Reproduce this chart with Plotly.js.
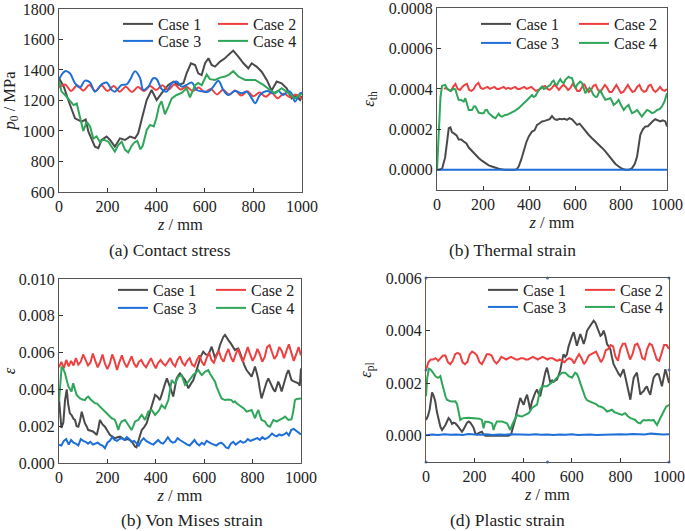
<!DOCTYPE html>
<html>
<head>
<meta charset="utf-8">
<script src="https://cdn.plot.ly/plotly-3.0.1.min.js"></script>
<style>
  html, body { margin: 0; padding: 0; background: #fff; }
  #myChart { width: 685px; height: 531px; }
</style>
</head>
<body>
<div id="myChart"></div>
<script>
// z positions (mm) for the evenly read series
const z10 = [0,10,20,30,40,50,60,70,80,90,100,110,120,130,140,150,160,170,180,190,200,
  210,220,230,240,250,260,270,280,290,300,310,320,330,340,350,360,370,380,390,400,
  410,420,430,440,450,460,470,480,490,500,510,520,530,540,550,560,570,580,590,600,
  610,620,630,640,650,660,670,680,690,700,710,720,730,740,750,760,770,780,790,800,
  810,820,830,840,850,860,870,880,890,900,910,920,930,940,950,960,970,980,990,1000];
const z25 = [0,25,50,75,100,125,150,175,200,225,250,275,300,325,350,375,400,425,450,475,500,
  525,550,575,600,625,650,675,700,725,750,775,800,825,850,875,900,925,950,975,1000];

const cases = ["Case 1", "Case 2", "Case 3", "Case 4"];
const colors = ["#4a4a4a", "#ee4040", "#1f6fd8", "#2fa65a"];

// (a) contact stress, MPa  -- [z, p0]
const aCase1 = [[0,1345],[20,1290],[38,1203],[52,1140],[66,1083],[93,1061],[110,1075],[121,996],
  [135,950],[148,897],[162,887],[175,941],[196,963],[210,941],[230,897],[251,952],[272,941],
  [292,963],[313,952],[326,985],[343,1094],[361,1203],[381,1269],[402,1203],[422,1247],
  [450,1302],[471,1324],[491,1302],[512,1313],[525,1378],[543,1444],[560,1433],[573,1378],
  [587,1367],[601,1444],[615,1477],[628,1433],[642,1422],[663,1455],[683,1477],[697,1499],
  [717,1527],[738,1488],[759,1444],[779,1411],[793,1444],[813,1422],[834,1389],[855,1335],
  [875,1265],[896,1324],[916,1313],[937,1280],[957,1214],[971,1236],[992,1203],[1000,1230]];
const aCase2 = [1285,1305,1262,1300,1265,1302,1262,1298,1262,1295,1258,1290,1255,1288,1262,
  1295,1268,1300,1270,1305,1272,1290,1262,1285,1255,1275,1240,1270,1238,1265,1232,1260,
  1228,1252,1225,1250,1215,1245,1222,1238,1212];
const aCase3 = [[0,1339],[25,1392],[45,1378],[66,1313],[86,1285],[107,1330],[128,1318],
  [148,1258],[175,1305],[196,1318],[217,1269],[230,1258],[258,1302],[278,1305],[292,1335],
  [313,1392],[333,1350],[347,1269],[368,1291],[388,1346],[402,1340],[422,1275],[443,1258],
  [464,1313],[484,1324],[505,1291],[525,1302],[546,1318],[567,1269],[590,1260],[615,1258],
  [635,1291],[656,1330],[676,1269],[697,1236],[724,1262],[752,1247],[772,1258],[793,1214],
  [807,1182],[827,1236],[855,1262],[882,1247],[903,1262],[923,1236],[944,1262],[957,1247],
  [971,1193],[992,1247],[1000,1250]];
const aCase4 = [[0,1330],[10,1260],[25,1236],[45,1200],[60,1170],[73,1180],[86,1090],
  [100,1000],[114,1060],[128,1030],[141,950],[155,965],[169,925],[182,945],[203,930],
  [217,897],[230,865],[244,908],[258,930],[272,876],[285,860],[298,900],[310,925],[322,935],
  [335,880],[345,905],[361,1007],[375,1040],[390,1030],[400,1080],[412,1165],[422,1195],
  [436,1110],[450,1160],[464,1214],[484,1236],[505,1250],[525,1280],[539,1220],[560,1300],
  [573,1315],[587,1300],[608,1370],[621,1340],[642,1335],[663,1350],[683,1357],[700,1370],
  [717,1392],[738,1357],[766,1335],[807,1335],[841,1302],[868,1269],[889,1247],[916,1280],
  [944,1250],[971,1214],[1000,1245]];

// (b) thermal strain, in units of 1e-4  -- [z, eps]
const bCase1 = [[0,0],[10,0],[22,0.05],[35,0.6],[45,1.5],[51,2.06],[58,2.1],[65,1.85],[72,1.81],
  [85,1.7],[94,1.5],[105,1.5],[116,1.4],[128,1.3],[138,1.1],[150,0.95],[159,0.82],[170,0.7],
  [181,0.58],[195,0.45],[210,0.33],[225,0.22],[239,0.16],[255,0.08],[268,0.05],[285,0.02],
  [297,0],[320,0],[341,0],[348,0.05],[355,0.16],[366,0.5],[377,0.99],[388,1.35],[399,1.65],
  [413,1.89],[424,1.95],[435,2.22],[446,2.3],[457,2.39],[468,2.42],[478,2.47],[490,2.5],
  [500,2.65],[511,2.5],[522,2.47],[532,2.52],[543,2.5],[555,2.52],[565,2.47],[576,2.55],
  [587,2.5],[598,2.35],[609,2.22],[620,2.28],[632,2.1],[645,1.89],[660,1.72],[674,1.56],
  [690,1.4],[703,1.23],[718,1.08],[732,0.91],[746,0.7],[761,0.49],[775,0.3],[790,0.16],
  [805,0.05],[819,0],[834,0],[848,0.08],[860,0.3],[870,0.66],[877,1.2],[884,1.73],[895,2.0],
  [906,2.14],[917,2.15],[928,2.3],[938,2.4],[949,2.5],[960,2.45],[971,2.39],[982,2.45],
  [993,2.39],[1000,2.14]];
// Case 2 starts at z = 30 (z10 from index 3)
const bCase2 = [4.0,4.05,3.95,3.9,4.1,4.25,4.0,3.95,4.1,4.2,4.25,3.95,3.9,4.0,4.2,4.3,4.05,
  4.0,4.05,4.1,4.0,4.05,4.1,4.0,4.0,4.05,4.1,4.0,4.05,4.0,4.05,4.1,4.0,4.0,4.05,4.1,4.0,
  4.05,4.1,4.0,3.9,3.95,4.0,4.1,4.15,4.0,3.95,4.05,4.2,4.1,3.95,4.1,4.2,4.1,3.95,4.05,4.25,
  4.1,3.9,3.9,4.1,4.25,4.0,3.85,3.95,4.15,4.2,3.95,3.85,4.0,4.2,4.05,3.85,3.85,4.05,4.2,
  4.0,3.8,3.85,4.05,4.2,4.0,3.85,3.9,4.1,4.2,3.95,3.85,3.9,4.15,4.2,3.95,3.85,3.95,4.1,
  3.95,3.9,4.0];
const bCase3 = [[0,0],[250,0],[500,0],[750,0],[1000,0]];
const bCase4 = [[0,0],[5,1.0],[10,2.5],[15,3.6],[22,4.15],[30,4.2],[36,4.2],[44,4.0],[51,3.95],
  [60,3.9],[70,4.0],[80,3.98],[87,3.7],[94,3.46],[105,3.45],[116,3.37],[123,3.54],[130,3.3],
  [138,2.96],[152,2.96],[160,3.13],[167,3.13],[174,2.95],[181,2.83],[192,2.8],[203,2.8],
  [210,2.95],[217,2.96],[225,2.8],[232,2.72],[243,2.62],[254,2.55],[261,2.68],[268,2.77],
  [276,2.65],[283,2.63],[294,2.7],[304,2.72],[315,2.78],[326,2.83],[340,2.93],[355,3.05],
  [366,3.15],[377,3.29],[388,3.4],[399,3.54],[413,3.7],[420,3.6],[428,3.65],[435,3.8],
  [442,3.95],[450,4.05],[457,4.12],[464,4.0],[471,4.03],[482,4.1],[493,4.2],[500,4.35],
  [507,4.41],[514,4.25],[522,4.2],[529,4.35],[536,4.48],[543,4.35],[551,4.28],[558,4.45],
  [565,4.55],[572,4.6],[580,4.55],[587,4.53],[594,4.3],[601,4.03],[609,4.2],[616,4.28],
  [622,4.36],[630,4.3],[637,4.0],[645,3.79],[655,3.95],[663,4.05],[670,3.95],[680,3.7],
  [690,3.6],[696,3.62],[703,3.8],[710,3.95],[720,3.7],[732,3.46],[743,3.5],[754,3.54],
  [761,3.4],[768,3.21],[779,3.3],[790,3.46],[800,3.2],[812,2.96],[822,3.1],[833,3.21],
  [840,3.0],[848,2.8],[858,2.85],[870,2.96],[880,2.8],[891,2.63],[902,2.8],[913,2.96],
  [924,2.9],[935,2.8],[946,2.85],[957,2.96],[968,3.0],[978,3.13],[990,3.4],[1000,3.79]];

// (c) von Mises strain, in units of 1e-3
const cCase1 = [[0,3.5],[5,2.5],[10,1.9],[18,2.2],[25,3.4],[32,4.0],[38,3.2],[45,2.7],[52,2.6],
  [60,2.4],[66,2.34],[73,2.0],[80,1.97],[87,2.3],[94,2.79],[100,2.5],[107,2.16],[114,2.0],
  [121,1.79],[132,1.75],[142,1.7],[150,1.6],[156,1.52],[163,1.9],[169,2.34],[180,2.1],
  [190,1.97],[200,1.75],[211,1.52],[220,1.45],[231,1.34],[241,1.4],[252,1.43],[262,1.35],
  [273,1.25],[283,1.3],[293,1.25],[304,1.1],[314,0.89],[320,0.85],[328,1.16],[335,1.5],
  [342,1.79],[352,1.95],[362,2.16],[372,2.6],[383,3.06],[390,3.4],[397,3.7],[407,3.6],
  [417,3.42],[424,3.7],[431,4.06],[438,4.3],[446,4.6],[452,4.4],[459,4.15],[465,3.9],
  [472,3.61],[479,4.1],[486,4.6],[493,4.75],[500,4.87],[510,4.7],[521,4.51],[528,4.3],
  [534,4.06],[545,4.3],[555,4.51],[565,4.9],[576,5.42],[586,5.8],[596,6.05],[606,5.9],
  [617,5.87],[624,6.1],[631,6.32],[638,6.0],[645,5.69],[651,5.9],[658,6.05],[665,6.4],
  [672,6.68],[679,6.85],[686,6.96],[693,6.8],[700,6.68],[710,6.5],[720,6.3],[727,6.14],
  [734,6.2],[741,6.23],[748,6.0],[755,5.69],[765,5.35],[775,5.05],[786,4.85],[796,4.69],
  [803,4.95],[810,5.24],[817,4.9],[824,4.51],[830,4.0],[837,3.51],[844,3.8],[851,4.15],
  [858,4.4],[865,4.6],[872,4.4],[879,4.15],[886,4.0],[893,3.88],[900,4.15],[906,4.42],
  [913,4.2],[920,3.88],[927,4.2],[934,4.6],[941,4.85],[948,5.05],[955,4.8],[961,4.51],
  [968,4.45],[975,4.42],[982,4.4],[989,4.33],[995,4.2],[1000,5.14]];
const cCase2 = [5.2,5.5,5.15,5.6,5.25,5.55,5.3,5.7,5.35,5.5,5.9,5.6,5.3,5.45,5.95,5.55,5.2,
  5.5,5.9,5.4,5.1,5.4,5.9,5.55,5.05,5.5,5.85,5.45,5.2,5.5,5.8,5.4,5.2,5.5,5.6,5.35,5.2,
  5.45,5.7,5.4,5.15,5.45,5.6,5.4,5.3,5.5,5.7,5.4,5.25,5.6,5.8,5.45,5.3,5.55,5.7,5.35,5.25,
  5.6,5.85,5.5,5.3,5.7,6.0,5.6,5.45,5.8,6.1,5.7,5.5,5.9,6.2,5.75,5.5,5.9,6.2,5.8,5.5,5.9,
  6.3,5.9,5.55,5.8,6.2,5.9,5.5,5.75,6.3,6.4,6.0,5.65,5.85,6.3,6.1,5.7,6.1,6.45,6.0,5.55,
  5.9,6.3,5.85];
const cCase3 = [1.0,0.95,1.2,1.3,1.0,1.25,1.1,1.05,0.95,1.3,1.2,1.15,1.05,1.15,1.0,1.05,1.1,
  1.0,0.95,0.8,1.1,1.2,1.4,1.25,1.2,1.3,1.35,1.25,1.4,1.3,1.15,1.2,1.05,0.95,1.2,1.35,1.2,
  1.1,1.05,1.0,1.15,1.25,1.1,1.05,1.2,1.4,1.2,1.1,1.15,1.35,1.25,1.15,1.1,1.0,0.95,1.1,1.25,
  1.05,0.95,1.1,1.0,1.2,1.1,1.05,1.0,0.95,1.05,1.1,1.0,0.85,0.8,1.05,1.15,1.0,1.1,1.2,1.1,
  1.15,1.3,1.2,1.25,1.3,1.35,1.25,1.4,1.3,1.35,1.45,1.6,1.5,1.45,1.55,1.5,1.55,1.65,1.5,
  1.8,1.85,1.75,1.7,1.55];
const cCase4 = [[0,3.33],[5,4.5],[11,5.24],[18,5.1],[25,4.87],[32,4.5],[39,4.15],[46,4.0],
  [52,3.88],[56,4.2],[59,4.33],[66,4.0],[73,3.7],[80,3.6],[87,3.51],[97,3.45],[107,3.42],
  [114,3.55],[121,3.61],[131,3.45],[142,3.33],[149,3.25],[156,3.24],[166,3.1],[176,2.97],
  [187,2.85],[197,2.7],[207,2.55],[218,2.43],[225,2.4],[231,2.34],[238,2.1],[245,1.79],
  [252,2.1],[259,2.25],[266,2.3],[273,2.34],[280,2.2],[286,2.07],[293,1.95],[300,1.79],
  [307,2.0],[314,2.25],[321,2.3],[328,2.34],[335,2.5],[342,2.61],[348,2.5],[355,2.34],
  [362,2.55],[369,2.79],[376,2.85],[383,2.88],[390,2.75],[397,2.61],[403,2.7],[410,2.79],
  [417,2.95],[424,3.15],[431,3.05],[438,2.97],[445,3.2],[452,3.42],[459,4.0],[466,4.51],
  [472,4.4],[479,4.33],[486,4.5],[493,4.69],[500,4.74],[507,4.78],[514,4.5],[521,4.24],
  [528,4.3],[534,4.42],[541,4.55],[548,4.69],[555,4.8],[562,4.87],[569,4.95],[576,5.05],
  [583,4.9],[590,4.78],[596,4.85],[603,4.96],[610,5.0],[617,5.05],[624,4.85],[631,4.69],
  [638,4.55],[645,4.42],[651,4.15],[658,3.88],[665,3.7],[672,3.51],[679,3.45],[686,3.42],
  [700,3.45],[713,3.42],[720,3.3],[727,3.35],[734,3.24],[745,3.15],[755,3.06],[765,2.95],
  [775,2.79],[786,2.85],[796,2.88],[803,2.65],[810,2.43],[817,2.7],[824,2.88],[830,2.6],
  [837,2.34],[844,2.3],[851,2.25],[858,2.1],[865,2.0],[872,1.97],[879,2.15],[886,2.34],
  [893,2.3],[899,2.25],[906,2.3],[913,2.34],[920,2.4],[927,2.45],[934,2.52],[941,2.4],
  [948,2.34],[955,2.36],[961,2.37],[968,2.8],[975,3.42],[982,3.48],[990,3.5],[1000,3.51]];

// (d) plastic strain, in units of 1e-3
const dCase1 = [[0,0.6],[8,0.75],[15,1.0],[25,1.65],[32,1.5],[38,1.31],[45,0.9],[52,0.6],
  [59,0.35],[66,0.22],[73,0.3],[80,0.41],[87,0.55],[93,0.67],[100,0.6],[107,0.45],[114,0.5],
  [121,0.47],[128,0.4],[135,0.3],[142,0.2],[148,0.15],[155,0.25],[162,0.4],[169,0.5],
  [176,0.54],[182,0.5],[189,0.41],[196,0.3],[203,0.09],[210,0.05],[216,0.1],[223,0.13],
  [230,0.15],[237,0.05],[244,0],[260,0],[280,0],[300,0],[320,0],[340,0],[350,0.05],
  [355,0.2],[361,0.41],[368,0.65],[374,0.92],[381,1.2],[388,1.44],[395,1.3],[402,1.18],
  [409,1.4],[416,1.56],[422,1.3],[429,0.99],[436,1.3],[443,1.5],[450,1.65],[457,1.76],
  [463,1.6],[470,1.5],[477,1.8],[484,2.21],[491,2.4],[498,2.59],[505,2.3],[512,2.01],
  [519,2.1],[525,2.05],[532,2.1],[539,2.14],[546,2.3],[553,2.5],[559,2.8],[566,3.1],
  [573,3.0],[580,3.1],[587,3.4],[594,3.62],[601,3.8],[608,3.94],[615,3.7],[621,3.42],
  [628,3.65],[635,3.87],[642,3.7],[649,3.49],[656,3.7],[663,4.0],[670,4.1],[677,4.2],
  [684,4.3],[690,4.38],[697,4.3],[704,4.13],[711,4.0],[718,3.8],[724,3.85],[731,4.0],
  [738,3.8],[745,3.49],[752,3.4],[759,3.29],[765,3.0],[772,2.72],[779,2.6],[786,2.46],
  [793,2.35],[800,2.27],[806,2.4],[813,2.53],[820,2.25],[827,1.95],[834,1.6],[841,1.37],
  [848,1.8],[855,2.21],[861,2.3],[868,2.4],[875,2.0],[882,1.56],[889,1.65],[896,1.7],
  [902,1.8],[909,1.88],[916,1.7],[923,1.56],[930,1.9],[937,2.21],[944,2.3],[951,2.35],
  [958,2.33],[965,2.1],[971,1.88],[978,2.2],[985,2.53],[992,2.3],[1000,2.01]];
const dCase2 = [2.5,2.8,2.9,2.9,2.95,2.85,2.95,3.05,3.05,2.8,2.72,2.85,3.1,3.15,3.1,2.8,2.72,
  2.8,3.1,3.2,3.15,3.05,2.8,2.72,2.9,3.1,3.1,3.05,2.85,2.75,2.85,3.0,2.95,2.9,2.95,3.0,2.95,
  2.9,2.9,2.95,2.95,2.9,2.9,2.95,3.0,2.95,2.9,2.95,3.0,2.95,2.9,2.95,2.95,2.9,2.85,2.9,2.85,
  2.8,2.9,2.95,2.9,2.75,2.95,3.1,2.95,2.72,2.85,3.05,3.1,3.15,3.2,3.0,2.8,2.95,3.25,3.3,
  3.45,3.4,3.0,2.85,3.3,3.5,3.5,3.2,2.9,3.1,3.45,3.5,3.3,2.95,2.9,3.3,3.5,3.45,3.2,2.9,
  2.85,3.2,3.45,3.45,3.3];
const dCase3 = [0.02,0.05,0.03,0.06,0.04,0.05,0.03,0.07,0.05,0.04,0.06,0.03,0.05,0.04,0.06,
  0.05,0.03,0.04,0.06,0.04,0.05,0.03,0.05,0.04,0.06,0.03,0.04,0.05,0.03,0.04,0.05,0.04,0.06,
  0.05,0.07,0.06,0.05,0.08,0.06,0.05,0.06];
const dCase4 = [[0,1.5],[5,2.2],[12,2.55],[18,2.53],[25,2.45],[32,2.33],[40,2.25],[50,2.2],
  [59,2.27],[66,2.0],[73,1.69],[80,1.5],[86,1.37],[93,1.33],[100,1.31],[110,1.3],[121,1.31],
  [128,1.2],[134,0.9],[141,0.6],[148,0.65],[155,0.67],[175,0.68],[203,0.67],[220,0.65],
  [230,0.6],[234,0.4],[237,0.28],[241,0.45],[244,0.54],[258,0.52],[272,0.47],[275,0.35],
  [278,0.22],[284,0.4],[292,0.54],[313,0.54],[333,0.47],[340,0.35],[347,0.22],[354,0.4],
  [361,0.54],[368,0.68],[374,0.79],[385,0.75],[395,0.73],[410,0.8],[422,0.86],[430,0.95],
  [436,1.05],[446,1.12],[457,1.18],[463,1.45],[470,1.76],[477,1.85],[484,1.88],[498,1.88],
  [508,1.95],[518,2.01],[528,2.1],[539,2.21],[550,2.3],[560,2.4],[573,2.4],[587,2.27],
  [601,2.21],[608,2.3],[614,2.4],[621,2.35],[628,2.21],[635,2.0],[642,1.82],[649,1.6],
  [656,1.44],[663,1.35],[670,1.31],[680,1.28],[690,1.24],[700,1.2],[711,1.12],[721,1.1],
  [731,1.05],[738,0.98],[745,0.92],[755,0.95],[765,0.99],[775,0.9],[786,0.86],[796,0.82],
  [807,0.79],[813,0.83],[820,0.86],[830,0.75],[841,0.67],[851,0.64],[861,0.6],[872,0.5],
  [882,0.47],[889,0.55],[896,0.6],[906,0.58],[916,0.6],[927,0.58],[937,0.6],[944,0.5],
  [951,0.41],[958,0.55],[965,0.7],[972,0.85],[978,0.92],[988,1.1],[1000,1.18]];

// axis ticks
const zTicks = [0, 200, 400, 600, 800, 1000];
const aTicks = [600, 800, 1000, 1200, 1400, 1600, 1800];
const bTicks = [0, 0.0002, 0.0004, 0.0006, 0.0008];
const cTicks = [0, 0.002, 0.004, 0.006, 0.008, 0.01];
const dTicks = [0, 0.002, 0.004, 0.006];

// selection handles visible round panel (d)
const dHandleZ = [0, 500, 1000, 0, 1000, 0, 500, 1000];
const dHandleE = [-0.001, -0.001, -0.001, 0.0025, 0.0025, 0.006, 0.006, 0.006];

const FONT = "'Liberation Serif', 'Times New Roman', Times, serif";

var xs = (p) => p.map((d) => d[0]);
var ys = (p, k) => p.map((d) => d[1] * k);

var line = (x, y, i, xa, ya, legend, shape) => ({
  x: x,
  y: y,
  name: cases[i],
  type: "scatter",
  mode: "lines",
  xaxis: xa,
  yaxis: ya,
  legend: legend,
  line: { color: colors[i], width: 2, shape: shape || "linear" },
  hoverinfo: "x+y+name",
});

var data = [
  line(xs(aCase1), ys(aCase1, 1), 0, "x", "y", "legend"),
  line(z25, aCase2, 1, "x", "y", "legend", "spline"),
  line(xs(aCase3), ys(aCase3, 1), 2, "x", "y", "legend2", "spline"),
  line(xs(aCase4), ys(aCase4, 1), 3, "x", "y", "legend2"),

  line(xs(bCase1), ys(bCase1, 1e-4), 0, "x2", "y2", "legend3"),
  line(z10.slice(3), bCase2.map((v) => v * 1e-4), 1, "x2", "y2", "legend3"),
  line(xs(bCase3), ys(bCase3, 1e-4), 2, "x2", "y2", "legend4"),
  line(xs(bCase4), ys(bCase4, 1e-4), 3, "x2", "y2", "legend4"),

  line(xs(cCase1), ys(cCase1, 1e-3), 0, "x3", "y3", "legend5"),
  line(z10, cCase2.map((v) => v * 1e-3), 1, "x3", "y3", "legend5"),
  line(z10, cCase3.map((v) => v * 1e-3), 2, "x3", "y3", "legend6"),
  line(xs(cCase4), ys(cCase4, 1e-3), 3, "x3", "y3", "legend6"),

  line(xs(dCase1), ys(dCase1, 1e-3), 0, "x4", "y4", "legend7"),
  line(z10, dCase2.map((v) => v * 1e-3), 1, "x4", "y4", "legend7"),
  line(z25, dCase3.map((v) => v * 1e-3), 2, "x4", "y4", "legend8"),
  line(xs(dCase4), ys(dCase4, 1e-3), 3, "x4", "y4", "legend8"),
  {
    x: dHandleZ,
    y: dHandleE,
    type: "scatter",
    mode: "markers",
    xaxis: "x4",
    yaxis: "y4",
    cliponaxis: false,
    showlegend: false,
    hoverinfo: "skip",
    marker: { color: "#3a78d0", size: 3 },
  },
];

var axBase = {
  showline: true,
  mirror: true,
  linecolor: "#555555",
  linewidth: 1,
  ticks: "inside",
  ticklen: 4,
  tickwidth: 1,
  tickcolor: "#333333",
  showgrid: false,
  zeroline: false,
  ticklabeloverflow: "allow",
  tickfont: { family: FONT, size: 16, color: "#222222" },
};

var zAxis = (domain, anchor) =>
  Object.assign({}, axBase, {
    domain: domain,
    anchor: anchor,
    range: [0, 1000],
    tickvals: zTicks,
    title: {
      text: "<i>z</i> / mm",
      font: { family: FONT, size: 16.5, color: "#222222" },
      standoff: 2,
    },
  });

var valAxis = (domain, anchor, range, ticks, fmt, title, standoff) =>
  Object.assign({}, axBase, {
    domain: domain,
    anchor: anchor,
    range: range,
    tickvals: ticks,
    tickformat: fmt,
    title: {
      text: title,
      font: { family: FONT, size: 16.5, color: "#222222" },
      standoff: standoff,
    },
  });

var legendAt = (x, y, w) => ({
  orientation: "h",
  x: x,
  y: y,
  xanchor: "left",
  yanchor: "middle",
  entrywidth: w,
  entrywidthmode: "pixels",
  bgcolor: "rgba(0,0,0,0)",
  font: { family: FONT, size: 16, color: "#222222" },
});

var caption = (text, x, y) => ({
  text: text,
  x: x,
  y: y,
  xref: "paper",
  yref: "paper",
  xanchor: "center",
  yanchor: "middle",
  showarrow: false,
  font: { family: FONT, size: 17.5, color: "#222222" },
});

var layout = {
  width: 685,
  height: 531,
  margin: { l: 0, r: 0, t: 0, b: 0, autoexpand: false },
  paper_bgcolor: "#ffffff",
  plot_bgcolor: "#ffffff",
  font: { family: FONT, color: "#222222" },

  xaxis: zAxis([0.0861, 0.4409], "y"),
  yaxis: valAxis([0.6384, 0.9831], "x", [600, 1800.01], aTicks, "d",
    "<i>p</i><sub>0</sub> / MPa", 5),

  xaxis2: zAxis([0.638, 0.9737], "y2"),
  yaxis2: valAxis([0.6422, 0.9849], "x2", [-0.0001, 0.0008001], bTicks, ".4f",
    "<i>ε</i><sub>th</sub>", 10),

  xaxis3: zAxis([0.0861, 0.4394], "y3"),
  yaxis3: valAxis([0.1281, 0.4746], "x3", [0, 0.010001], cTicks, ".3f",
    "<i>ε</i>", 7),

  xaxis4: zAxis([0.6219, 0.9766], "y4"),
  yaxis4: Object.assign(
    valAxis([0.1299, 0.4765], "x4", [-0.001, 0.006001], dTicks, ".3f",
      "<i>ε</i><sub>pl</sub>", 10),
    { linecolor: "#7a5a40" }
  ),

  legend: legendAt(0.1723, 0.9548, 50),
  legend2: legendAt(0.1723, 0.9228, 50),
  legend3: legendAt(0.6949, 0.9548, 53),
  legend4: legendAt(0.6949, 0.919, 53),
  legend5: legendAt(0.165, 0.4539, 53),
  legend6: legendAt(0.165, 0.42, 53),
  legend7: legendAt(0.7051, 0.4539, 52),
  legend8: legendAt(0.7051, 0.4218, 52),

  annotations: [
    caption("(a) Contact stress", 0.2482, 0.5292),
    caption("(b) Thermal strain", 0.7489, 0.5292),
    caption("(b) Von Mises strain", 0.2803, 0.0207),
    caption("(d) Plastic strain", 0.7416, 0.0207),
  ],
  showlegend: true,
};

Plotly.newPlot("myChart", data, layout, { displayModeBar: false, staticPlot: true });
</script>
</body>
</html>
